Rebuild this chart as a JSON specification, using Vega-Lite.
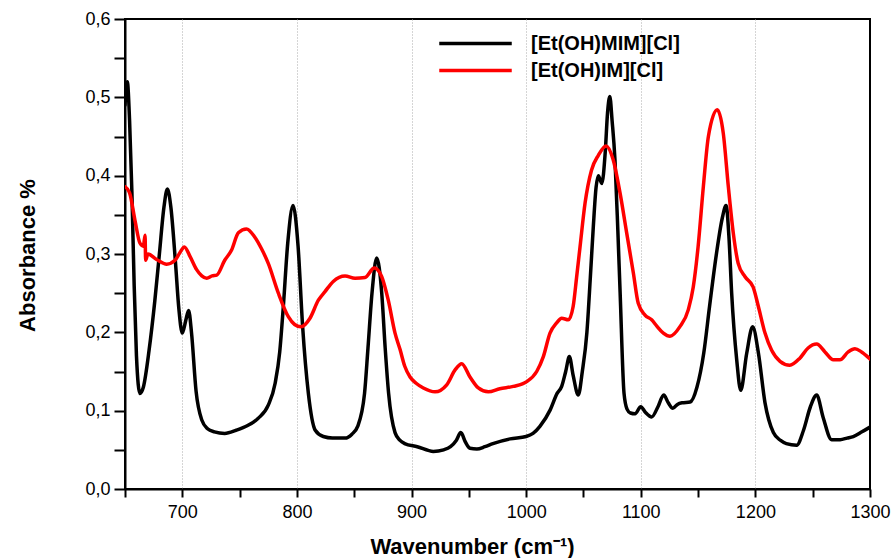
{
  "$schema": "https://vega.github.io/schema/vega-lite/v6.json",
  "width": 745,
  "height": 470,
  "autosize": {"type": "none"},
  "padding": {"left": 125, "top": 19, "right": 26, "bottom": 69},
  "background": "white",
  "config": {
    "view": {"stroke": "black", "strokeWidth": 2},
    "font": "Liberation Sans"
  },
  "data": {
    "values": [
      {"wn": 650, "abs": 0.49, "s": "[Et(OH)MIM][Cl]"},
      {"wn": 652, "abs": 0.52, "s": "[Et(OH)MIM][Cl]"},
      {"wn": 654, "abs": 0.47, "s": "[Et(OH)MIM][Cl]"},
      {"wn": 656, "abs": 0.38, "s": "[Et(OH)MIM][Cl]"},
      {"wn": 658, "abs": 0.26, "s": "[Et(OH)MIM][Cl]"},
      {"wn": 660, "abs": 0.17, "s": "[Et(OH)MIM][Cl]"},
      {"wn": 663, "abs": 0.122, "s": "[Et(OH)MIM][Cl]"},
      {"wn": 666, "abs": 0.13, "s": "[Et(OH)MIM][Cl]"},
      {"wn": 671, "abs": 0.177, "s": "[Et(OH)MIM][Cl]"},
      {"wn": 676, "abs": 0.24, "s": "[Et(OH)MIM][Cl]"},
      {"wn": 680, "abs": 0.3, "s": "[Et(OH)MIM][Cl]"},
      {"wn": 684, "abs": 0.36, "s": "[Et(OH)MIM][Cl]"},
      {"wn": 687, "abs": 0.383, "s": "[Et(OH)MIM][Cl]"},
      {"wn": 690, "abs": 0.36, "s": "[Et(OH)MIM][Cl]"},
      {"wn": 694, "abs": 0.29, "s": "[Et(OH)MIM][Cl]"},
      {"wn": 697, "abs": 0.23, "s": "[Et(OH)MIM][Cl]"},
      {"wn": 700, "abs": 0.199, "s": "[Et(OH)MIM][Cl]"},
      {"wn": 703, "abs": 0.215, "s": "[Et(OH)MIM][Cl]"},
      {"wn": 705.5, "abs": 0.228, "s": "[Et(OH)MIM][Cl]"},
      {"wn": 708, "abs": 0.2, "s": "[Et(OH)MIM][Cl]"},
      {"wn": 712, "abs": 0.125, "s": "[Et(OH)MIM][Cl]"},
      {"wn": 717, "abs": 0.088, "s": "[Et(OH)MIM][Cl]"},
      {"wn": 722, "abs": 0.077, "s": "[Et(OH)MIM][Cl]"},
      {"wn": 728, "abs": 0.073, "s": "[Et(OH)MIM][Cl]"},
      {"wn": 737, "abs": 0.071, "s": "[Et(OH)MIM][Cl]"},
      {"wn": 747, "abs": 0.075, "s": "[Et(OH)MIM][Cl]"},
      {"wn": 757, "abs": 0.081, "s": "[Et(OH)MIM][Cl]"},
      {"wn": 766, "abs": 0.09, "s": "[Et(OH)MIM][Cl]"},
      {"wn": 775, "abs": 0.107, "s": "[Et(OH)MIM][Cl]"},
      {"wn": 781, "abs": 0.135, "s": "[Et(OH)MIM][Cl]"},
      {"wn": 785, "abs": 0.175, "s": "[Et(OH)MIM][Cl]"},
      {"wn": 788, "abs": 0.23, "s": "[Et(OH)MIM][Cl]"},
      {"wn": 792, "abs": 0.314, "s": "[Et(OH)MIM][Cl]"},
      {"wn": 796.6, "abs": 0.362, "s": "[Et(OH)MIM][Cl]"},
      {"wn": 801, "abs": 0.31, "s": "[Et(OH)MIM][Cl]"},
      {"wn": 805, "abs": 0.207, "s": "[Et(OH)MIM][Cl]"},
      {"wn": 810, "abs": 0.122, "s": "[Et(OH)MIM][Cl]"},
      {"wn": 816, "abs": 0.075, "s": "[Et(OH)MIM][Cl]"},
      {"wn": 823, "abs": 0.067, "s": "[Et(OH)MIM][Cl]"},
      {"wn": 831, "abs": 0.065, "s": "[Et(OH)MIM][Cl]"},
      {"wn": 842, "abs": 0.065, "s": "[Et(OH)MIM][Cl]"},
      {"wn": 848, "abs": 0.07, "s": "[Et(OH)MIM][Cl]"},
      {"wn": 853, "abs": 0.08, "s": "[Et(OH)MIM][Cl]"},
      {"wn": 859, "abs": 0.122, "s": "[Et(OH)MIM][Cl]"},
      {"wn": 862, "abs": 0.18, "s": "[Et(OH)MIM][Cl]"},
      {"wn": 865.5, "abs": 0.25, "s": "[Et(OH)MIM][Cl]"},
      {"wn": 869.6, "abs": 0.295, "s": "[Et(OH)MIM][Cl]"},
      {"wn": 874, "abs": 0.25, "s": "[Et(OH)MIM][Cl]"},
      {"wn": 877, "abs": 0.18, "s": "[Et(OH)MIM][Cl]"},
      {"wn": 880, "abs": 0.122, "s": "[Et(OH)MIM][Cl]"},
      {"wn": 885.6, "abs": 0.072, "s": "[Et(OH)MIM][Cl]"},
      {"wn": 890, "abs": 0.062, "s": "[Et(OH)MIM][Cl]"},
      {"wn": 894, "abs": 0.058, "s": "[Et(OH)MIM][Cl]"},
      {"wn": 905, "abs": 0.054, "s": "[Et(OH)MIM][Cl]"},
      {"wn": 919, "abs": 0.048, "s": "[Et(OH)MIM][Cl]"},
      {"wn": 928, "abs": 0.05, "s": "[Et(OH)MIM][Cl]"},
      {"wn": 934, "abs": 0.054, "s": "[Et(OH)MIM][Cl]"},
      {"wn": 939, "abs": 0.062, "s": "[Et(OH)MIM][Cl]"},
      {"wn": 943, "abs": 0.072, "s": "[Et(OH)MIM][Cl]"},
      {"wn": 947, "abs": 0.06, "s": "[Et(OH)MIM][Cl]"},
      {"wn": 951, "abs": 0.052, "s": "[Et(OH)MIM][Cl]"},
      {"wn": 957, "abs": 0.051, "s": "[Et(OH)MIM][Cl]"},
      {"wn": 964, "abs": 0.054, "s": "[Et(OH)MIM][Cl]"},
      {"wn": 971, "abs": 0.058, "s": "[Et(OH)MIM][Cl]"},
      {"wn": 986, "abs": 0.064, "s": "[Et(OH)MIM][Cl]"},
      {"wn": 1000, "abs": 0.067, "s": "[Et(OH)MIM][Cl]"},
      {"wn": 1006, "abs": 0.071, "s": "[Et(OH)MIM][Cl]"},
      {"wn": 1012, "abs": 0.08, "s": "[Et(OH)MIM][Cl]"},
      {"wn": 1021, "abs": 0.101, "s": "[Et(OH)MIM][Cl]"},
      {"wn": 1027, "abs": 0.122, "s": "[Et(OH)MIM][Cl]"},
      {"wn": 1031, "abs": 0.131, "s": "[Et(OH)MIM][Cl]"},
      {"wn": 1034.5, "abs": 0.15, "s": "[Et(OH)MIM][Cl]"},
      {"wn": 1037.7, "abs": 0.169, "s": "[Et(OH)MIM][Cl]"},
      {"wn": 1041, "abs": 0.145, "s": "[Et(OH)MIM][Cl]"},
      {"wn": 1045.5, "abs": 0.12, "s": "[Et(OH)MIM][Cl]"},
      {"wn": 1049, "abs": 0.15, "s": "[Et(OH)MIM][Cl]"},
      {"wn": 1053, "abs": 0.2, "s": "[Et(OH)MIM][Cl]"},
      {"wn": 1056, "abs": 0.27, "s": "[Et(OH)MIM][Cl]"},
      {"wn": 1058.6, "abs": 0.335, "s": "[Et(OH)MIM][Cl]"},
      {"wn": 1061, "abs": 0.385, "s": "[Et(OH)MIM][Cl]"},
      {"wn": 1063, "abs": 0.4, "s": "[Et(OH)MIM][Cl]"},
      {"wn": 1066, "abs": 0.39, "s": "[Et(OH)MIM][Cl]"},
      {"wn": 1069, "abs": 0.43, "s": "[Et(OH)MIM][Cl]"},
      {"wn": 1071, "abs": 0.48, "s": "[Et(OH)MIM][Cl]"},
      {"wn": 1073, "abs": 0.501, "s": "[Et(OH)MIM][Cl]"},
      {"wn": 1075, "abs": 0.47, "s": "[Et(OH)MIM][Cl]"},
      {"wn": 1077.5, "abs": 0.42, "s": "[Et(OH)MIM][Cl]"},
      {"wn": 1080, "abs": 0.33, "s": "[Et(OH)MIM][Cl]"},
      {"wn": 1082, "abs": 0.25, "s": "[Et(OH)MIM][Cl]"},
      {"wn": 1085.4, "abs": 0.122, "s": "[Et(OH)MIM][Cl]"},
      {"wn": 1088, "abs": 0.102, "s": "[Et(OH)MIM][Cl]"},
      {"wn": 1091, "abs": 0.097, "s": "[Et(OH)MIM][Cl]"},
      {"wn": 1095, "abs": 0.096, "s": "[Et(OH)MIM][Cl]"},
      {"wn": 1100, "abs": 0.105, "s": "[Et(OH)MIM][Cl]"},
      {"wn": 1104, "abs": 0.098, "s": "[Et(OH)MIM][Cl]"},
      {"wn": 1109.5, "abs": 0.092, "s": "[Et(OH)MIM][Cl]"},
      {"wn": 1115, "abs": 0.105, "s": "[Et(OH)MIM][Cl]"},
      {"wn": 1120, "abs": 0.12, "s": "[Et(OH)MIM][Cl]"},
      {"wn": 1124, "abs": 0.11, "s": "[Et(OH)MIM][Cl]"},
      {"wn": 1128, "abs": 0.103, "s": "[Et(OH)MIM][Cl]"},
      {"wn": 1132, "abs": 0.108, "s": "[Et(OH)MIM][Cl]"},
      {"wn": 1136, "abs": 0.11, "s": "[Et(OH)MIM][Cl]"},
      {"wn": 1143, "abs": 0.111, "s": "[Et(OH)MIM][Cl]"},
      {"wn": 1149, "abs": 0.13, "s": "[Et(OH)MIM][Cl]"},
      {"wn": 1155, "abs": 0.174, "s": "[Et(OH)MIM][Cl]"},
      {"wn": 1160, "abs": 0.233, "s": "[Et(OH)MIM][Cl]"},
      {"wn": 1166, "abs": 0.3, "s": "[Et(OH)MIM][Cl]"},
      {"wn": 1171, "abs": 0.345, "s": "[Et(OH)MIM][Cl]"},
      {"wn": 1174.4, "abs": 0.362, "s": "[Et(OH)MIM][Cl]"},
      {"wn": 1177, "abs": 0.32, "s": "[Et(OH)MIM][Cl]"},
      {"wn": 1179.3, "abs": 0.25, "s": "[Et(OH)MIM][Cl]"},
      {"wn": 1183.7, "abs": 0.165, "s": "[Et(OH)MIM][Cl]"},
      {"wn": 1187.2, "abs": 0.126, "s": "[Et(OH)MIM][Cl]"},
      {"wn": 1192.4, "abs": 0.173, "s": "[Et(OH)MIM][Cl]"},
      {"wn": 1197.6, "abs": 0.207, "s": "[Et(OH)MIM][Cl]"},
      {"wn": 1202.6, "abs": 0.174, "s": "[Et(OH)MIM][Cl]"},
      {"wn": 1208.4, "abs": 0.11, "s": "[Et(OH)MIM][Cl]"},
      {"wn": 1215.7, "abs": 0.072, "s": "[Et(OH)MIM][Cl]"},
      {"wn": 1222, "abs": 0.062, "s": "[Et(OH)MIM][Cl]"},
      {"wn": 1227, "abs": 0.058, "s": "[Et(OH)MIM][Cl]"},
      {"wn": 1236, "abs": 0.056, "s": "[Et(OH)MIM][Cl]"},
      {"wn": 1242, "abs": 0.075, "s": "[Et(OH)MIM][Cl]"},
      {"wn": 1248, "abs": 0.105, "s": "[Et(OH)MIM][Cl]"},
      {"wn": 1253.5, "abs": 0.12, "s": "[Et(OH)MIM][Cl]"},
      {"wn": 1259, "abs": 0.092, "s": "[Et(OH)MIM][Cl]"},
      {"wn": 1266.5, "abs": 0.063, "s": "[Et(OH)MIM][Cl]"},
      {"wn": 1274, "abs": 0.063, "s": "[Et(OH)MIM][Cl]"},
      {"wn": 1280, "abs": 0.065, "s": "[Et(OH)MIM][Cl]"},
      {"wn": 1285.4, "abs": 0.067, "s": "[Et(OH)MIM][Cl]"},
      {"wn": 1293, "abs": 0.073, "s": "[Et(OH)MIM][Cl]"},
      {"wn": 1300, "abs": 0.079, "s": "[Et(OH)MIM][Cl]"},

      {"wn": 650, "abs": 0.386, "s": "[Et(OH)IM][Cl]"},
      {"wn": 654, "abs": 0.378, "s": "[Et(OH)IM][Cl]"},
      {"wn": 658.7, "abs": 0.343, "s": "[Et(OH)IM][Cl]"},
      {"wn": 663, "abs": 0.314, "s": "[Et(OH)IM][Cl]"},
      {"wn": 666, "abs": 0.31, "s": "[Et(OH)IM][Cl]"},
      {"wn": 667.5, "abs": 0.324, "s": "[Et(OH)IM][Cl]"},
      {"wn": 668, "abs": 0.292, "s": "[Et(OH)IM][Cl]"},
      {"wn": 670, "abs": 0.3, "s": "[Et(OH)IM][Cl]"},
      {"wn": 677.6, "abs": 0.293, "s": "[Et(OH)IM][Cl]"},
      {"wn": 686.4, "abs": 0.287, "s": "[Et(OH)IM][Cl]"},
      {"wn": 693.6, "abs": 0.292, "s": "[Et(OH)IM][Cl]"},
      {"wn": 698, "abs": 0.302, "s": "[Et(OH)IM][Cl]"},
      {"wn": 701.8, "abs": 0.309, "s": "[Et(OH)IM][Cl]"},
      {"wn": 706.7, "abs": 0.297, "s": "[Et(OH)IM][Cl]"},
      {"wn": 712.5, "abs": 0.28, "s": "[Et(OH)IM][Cl]"},
      {"wn": 717, "abs": 0.272, "s": "[Et(OH)IM][Cl]"},
      {"wn": 721.3, "abs": 0.269, "s": "[Et(OH)IM][Cl]"},
      {"wn": 726, "abs": 0.272, "s": "[Et(OH)IM][Cl]"},
      {"wn": 730, "abs": 0.273, "s": "[Et(OH)IM][Cl]"},
      {"wn": 737, "abs": 0.292, "s": "[Et(OH)IM][Cl]"},
      {"wn": 743, "abs": 0.305, "s": "[Et(OH)IM][Cl]"},
      {"wn": 748.9, "abs": 0.327, "s": "[Et(OH)IM][Cl]"},
      {"wn": 756, "abs": 0.332, "s": "[Et(OH)IM][Cl]"},
      {"wn": 763, "abs": 0.322, "s": "[Et(OH)IM][Cl]"},
      {"wn": 769, "abs": 0.307, "s": "[Et(OH)IM][Cl]"},
      {"wn": 775, "abs": 0.288, "s": "[Et(OH)IM][Cl]"},
      {"wn": 783.8, "abs": 0.25, "s": "[Et(OH)IM][Cl]"},
      {"wn": 792.5, "abs": 0.22, "s": "[Et(OH)IM][Cl]"},
      {"wn": 798, "abs": 0.21, "s": "[Et(OH)IM][Cl]"},
      {"wn": 803.5, "abs": 0.207, "s": "[Et(OH)IM][Cl]"},
      {"wn": 811.4, "abs": 0.218, "s": "[Et(OH)IM][Cl]"},
      {"wn": 818.7, "abs": 0.241, "s": "[Et(OH)IM][Cl]"},
      {"wn": 824.5, "abs": 0.252, "s": "[Et(OH)IM][Cl]"},
      {"wn": 831.7, "abs": 0.265, "s": "[Et(OH)IM][Cl]"},
      {"wn": 842, "abs": 0.272, "s": "[Et(OH)IM][Cl]"},
      {"wn": 850.7, "abs": 0.269, "s": "[Et(OH)IM][Cl]"},
      {"wn": 859.4, "abs": 0.27, "s": "[Et(OH)IM][Cl]"},
      {"wn": 867.5, "abs": 0.282, "s": "[Et(OH)IM][Cl]"},
      {"wn": 874, "abs": 0.271, "s": "[Et(OH)IM][Cl]"},
      {"wn": 879.7, "abs": 0.241, "s": "[Et(OH)IM][Cl]"},
      {"wn": 885.6, "abs": 0.199, "s": "[Et(OH)IM][Cl]"},
      {"wn": 890, "abs": 0.178, "s": "[Et(OH)IM][Cl]"},
      {"wn": 894, "abs": 0.157, "s": "[Et(OH)IM][Cl]"},
      {"wn": 898.7, "abs": 0.143, "s": "[Et(OH)IM][Cl]"},
      {"wn": 904, "abs": 0.135, "s": "[Et(OH)IM][Cl]"},
      {"wn": 910.3, "abs": 0.129, "s": "[Et(OH)IM][Cl]"},
      {"wn": 920.5, "abs": 0.124, "s": "[Et(OH)IM][Cl]"},
      {"wn": 930.7, "abs": 0.133, "s": "[Et(OH)IM][Cl]"},
      {"wn": 938, "abs": 0.152, "s": "[Et(OH)IM][Cl]"},
      {"wn": 943.8, "abs": 0.16, "s": "[Et(OH)IM][Cl]"},
      {"wn": 951, "abs": 0.143, "s": "[Et(OH)IM][Cl]"},
      {"wn": 958.3, "abs": 0.129, "s": "[Et(OH)IM][Cl]"},
      {"wn": 967, "abs": 0.124, "s": "[Et(OH)IM][Cl]"},
      {"wn": 977, "abs": 0.128, "s": "[Et(OH)IM][Cl]"},
      {"wn": 988.8, "abs": 0.131, "s": "[Et(OH)IM][Cl]"},
      {"wn": 1000.5, "abs": 0.137, "s": "[Et(OH)IM][Cl]"},
      {"wn": 1009.2, "abs": 0.15, "s": "[Et(OH)IM][Cl]"},
      {"wn": 1015, "abs": 0.169, "s": "[Et(OH)IM][Cl]"},
      {"wn": 1020.8, "abs": 0.199, "s": "[Et(OH)IM][Cl]"},
      {"wn": 1026.6, "abs": 0.212, "s": "[Et(OH)IM][Cl]"},
      {"wn": 1031, "abs": 0.218, "s": "[Et(OH)IM][Cl]"},
      {"wn": 1036.8, "abs": 0.216, "s": "[Et(OH)IM][Cl]"},
      {"wn": 1041, "abs": 0.233, "s": "[Et(OH)IM][Cl]"},
      {"wn": 1044, "abs": 0.27, "s": "[Et(OH)IM][Cl]"},
      {"wn": 1047, "abs": 0.309, "s": "[Et(OH)IM][Cl]"},
      {"wn": 1051.4, "abs": 0.365, "s": "[Et(OH)IM][Cl]"},
      {"wn": 1057, "abs": 0.407, "s": "[Et(OH)IM][Cl]"},
      {"wn": 1063, "abs": 0.426, "s": "[Et(OH)IM][Cl]"},
      {"wn": 1069.7, "abs": 0.438, "s": "[Et(OH)IM][Cl]"},
      {"wn": 1076, "abs": 0.42, "s": "[Et(OH)IM][Cl]"},
      {"wn": 1081.9, "abs": 0.378, "s": "[Et(OH)IM][Cl]"},
      {"wn": 1087.7, "abs": 0.327, "s": "[Et(OH)IM][Cl]"},
      {"wn": 1093.5, "abs": 0.276, "s": "[Et(OH)IM][Cl]"},
      {"wn": 1097.8, "abs": 0.237, "s": "[Et(OH)IM][Cl]"},
      {"wn": 1103.7, "abs": 0.222, "s": "[Et(OH)IM][Cl]"},
      {"wn": 1109.5, "abs": 0.216, "s": "[Et(OH)IM][Cl]"},
      {"wn": 1114, "abs": 0.208, "s": "[Et(OH)IM][Cl]"},
      {"wn": 1119.7, "abs": 0.199, "s": "[Et(OH)IM][Cl]"},
      {"wn": 1125.5, "abs": 0.195, "s": "[Et(OH)IM][Cl]"},
      {"wn": 1134, "abs": 0.207, "s": "[Et(OH)IM][Cl]"},
      {"wn": 1141.5, "abs": 0.229, "s": "[Et(OH)IM][Cl]"},
      {"wn": 1145.8, "abs": 0.258, "s": "[Et(OH)IM][Cl]"},
      {"wn": 1150, "abs": 0.309, "s": "[Et(OH)IM][Cl]"},
      {"wn": 1154.6, "abs": 0.386, "s": "[Et(OH)IM][Cl]"},
      {"wn": 1159, "abs": 0.45, "s": "[Et(OH)IM][Cl]"},
      {"wn": 1166.8, "abs": 0.484, "s": "[Et(OH)IM][Cl]"},
      {"wn": 1172, "abs": 0.454, "s": "[Et(OH)IM][Cl]"},
      {"wn": 1176.4, "abs": 0.386, "s": "[Et(OH)IM][Cl]"},
      {"wn": 1180.7, "abs": 0.327, "s": "[Et(OH)IM][Cl]"},
      {"wn": 1185, "abs": 0.288, "s": "[Et(OH)IM][Cl]"},
      {"wn": 1191, "abs": 0.271, "s": "[Et(OH)IM][Cl]"},
      {"wn": 1198, "abs": 0.258, "s": "[Et(OH)IM][Cl]"},
      {"wn": 1202.6, "abs": 0.233, "s": "[Et(OH)IM][Cl]"},
      {"wn": 1208.4, "abs": 0.199, "s": "[Et(OH)IM][Cl]"},
      {"wn": 1214.2, "abs": 0.177, "s": "[Et(OH)IM][Cl]"},
      {"wn": 1221.5, "abs": 0.163, "s": "[Et(OH)IM][Cl]"},
      {"wn": 1230, "abs": 0.158, "s": "[Et(OH)IM][Cl]"},
      {"wn": 1238.8, "abs": 0.167, "s": "[Et(OH)IM][Cl]"},
      {"wn": 1246, "abs": 0.18, "s": "[Et(OH)IM][Cl]"},
      {"wn": 1253.5, "abs": 0.185, "s": "[Et(OH)IM][Cl]"},
      {"wn": 1260.7, "abs": 0.175, "s": "[Et(OH)IM][Cl]"},
      {"wn": 1268, "abs": 0.165, "s": "[Et(OH)IM][Cl]"},
      {"wn": 1273.8, "abs": 0.165, "s": "[Et(OH)IM][Cl]"},
      {"wn": 1281, "abs": 0.175, "s": "[Et(OH)IM][Cl]"},
      {"wn": 1286.9, "abs": 0.179, "s": "[Et(OH)IM][Cl]"},
      {"wn": 1292.6, "abs": 0.175, "s": "[Et(OH)IM][Cl]"},
      {"wn": 1300, "abs": 0.166, "s": "[Et(OH)IM][Cl]"}
    ]
  },
  "mark": {"type": "line", "interpolate": "monotone", "strokeWidth": 3.5, "strokeCap": "round", "strokeJoin": "round", "clip": true},
  "encoding": {
    "x": {
      "field": "wn", "type": "quantitative",
      "scale": {"domain": [650, 1300], "nice": false, "zero": false},
      "axis": {
        "title": "Wavenumber (cm⁻¹)",
        "titleFont": "Liberation Sans", "titleFontSize": 22, "titleFontWeight": "bold", "titleColor": "black",
        "titleX": 347, "titleY": 64, "titleBaseline": "alphabetic", "titleAnchor": "middle", "titleAlign": "center",
        "values": [650, 700, 750, 800, 850, 900, 950, 1000, 1050, 1100, 1150, 1200, 1250, 1300],
        "labelExpr": "datum.value % 100 === 0 ? datum.value : ''",
        "labelFont": "Liberation Sans", "labelFontSize": 18, "labelColor": "black", "labelPadding": 6,
        "labelFlush": false, "labelOverlap": false,
        "domainColor": "black", "domainWidth": 2,
        "tickColor": "black", "tickWidth": 2, "tickSize": 8,
        "grid": true, "gridColor": "#aaaaaa", "gridDash": [1, 2], "gridWidth": 1,
        "gridOpacity": {"condition": {"test": "datum.value % 100 === 0 && datum.value < 1300", "value": 1}, "value": 0}
      }
    },
    "y": {
      "field": "abs", "type": "quantitative",
      "scale": {"domain": [0, 0.6], "nice": false},
      "axis": {
        "title": "Absorbance %",
        "titleFont": "Liberation Sans", "titleFontSize": 22, "titleFontWeight": "bold", "titleColor": "black",
        "titleX": -86, "titleY": 236, "titleAngle": 270, "titleAlign": "center", "titleBaseline": "bottom",
        "values": [0, 0.05, 0.1, 0.15, 0.2, 0.25, 0.3, 0.35, 0.4, 0.45, 0.5, 0.55, 0.6],
        "labelExpr": "round(datum.value * 100) % 10 === 0 ? replace(format(datum.value, '.1f'), '.', ',') : ''",
        "labelFont": "Liberation Sans", "labelFontSize": 18, "labelColor": "black", "labelPadding": 4,
        "labelFlush": false, "labelOverlap": false,
        "domainColor": "black", "domainWidth": 2,
        "tickColor": "black", "tickWidth": 2, "tickSize": 11,
        "grid": false
      }
    },
    "color": {
      "field": "s", "type": "nominal",
      "scale": {"domain": ["[Et(OH)MIM][Cl]", "[Et(OH)IM][Cl]"], "range": ["#000000", "#ff0000"]},
      "legend": {
        "title": null,
        "orient": "none", "legendX": 334, "legendY": 8,
        "symbolType": "M-2.5,0H2.5", "symbolSize": 841, "symbolStrokeWidth": 3.5,
        "labelFont": "Liberation Sans", "labelFontSize": 20, "labelFontWeight": "bold", "labelColor": "black",
        "labelOffset": 39, "rowPadding": 0, "labelLimit": 400
      }
    }
  }
}
